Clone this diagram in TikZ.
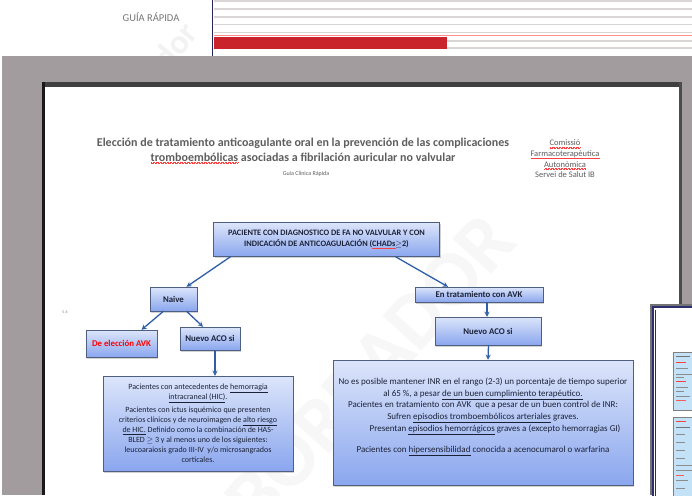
\documentclass[tikz,border=0pt]{standalone}
\usepackage{fontspec}
\setmainfont{Carlito}
\usepackage{tikz}
\usetikzlibrary{shadows}

\definecolor{fondo}{HTML}{A39C9F}
\definecolor{titulo}{HTML}{5E5E5E}
\definecolor{tinta}{HTML}{1B2238}
\definecolor{borde}{HTML}{4F5F80}
\definecolor{cajaarriba}{HTML}{DCE5FA}
\definecolor{cajaabajo}{HTML}{8AA6EE}
\definecolor{azul}{HTML}{2F5EA8}
\definecolor{rojo}{HTML}{C9232C}
\definecolor{raya}{HTML}{DAD5D5}
\definecolor{marinero}{HTML}{2E2E70}
\definecolor{celeste}{HTML}{C3E2F7}

% subrayado ondulado rojo del corrector
\newsavebox{\cajapalabra}
\newcommand{\corrige}[1]{\sbox{\cajapalabra}{#1}%
    \rlap{\raisebox{-2.2pt}{\textcolor{red!75}{\hbox to \wd\cajapalabra{\xleaders\hbox{\rule{0.7pt}{0.45pt}\raisebox{0.5pt}{\rule{0.7pt}{0.45pt}}}\hfill}}}}%
    \usebox{\cajapalabra}}
\newcommand{\subraya}[1]{\underline{#1}}

\begin{document}
\begin{tikzpicture}[x=1pt, y=-1pt, >=stealth,
    caja/.style={draw=borde, line width=0.4pt, top color=cajaarriba, bottom color=cajaabajo,
      drop shadow={shadow xshift=1.2pt, shadow yshift=-1.5pt, opacity=0.35},
      text=tinta, align=center, inner sep=0.5pt},
    etiqueta/.style={font=\bfseries\fontsize{8.8}{10}\selectfont},
    flecha/.style={->, line width=1.3pt, draw=azul}]
    \useasboundingbox (0,0) rectangle (692,495);
    \clip (0,0) rectangle (692,495);

    % Cabecera
    \fill[white] (0,0) rectangle (692,56);
    \foreach \y in {1,9,17,24.5,32.5,41,48}
        \draw[raya, line width=1.7pt] (214,\y) -- (692,\y);
    \draw[red!45, line width=1pt] (214,36) -- (692,36);
    \fill[rojo] (214,37) rectangle (447,49);
    \begin{scope}
        \clip (0,0) rectangle (211,56);
        \node[rotate=50, text=black!5, font=\bfseries\fontsize{34}{34}\selectfont] (marcaarriba) at (150,75) {Borrador};
    \end{scope}
    \draw[marinero!80!black, line width=1.2pt] (212.5,0) -- (212.5,56);
    \node[text=titulo!85, font=\fontsize{10.5}{12}\selectfont] (guia) at (151,17) {GUÍA RÁPIDA};

    % Fondo gris y pagina
    \fill[fondo] (2,56) rectangle (692,495);
    \fill[white] (45,87) rectangle (679,495);
    \fill[black!75] (42,82) rectangle (682,87);
    \fill[black!90] (42,82) rectangle (45,495);
    \fill[black!70] (679,82) rectangle (682,495);

    % Marca de agua
    \node[rotate=48, text=black!3, font=\bfseries\fontsize{80}{80}\selectfont] (marca) at (370,370) {BORRADOR};

    % Titulo
    \node[text=titulo, font=\bfseries\fontsize{12}{15}\selectfont, align=center] (titulo) at (303,150.5)
        {Elección de tratamiento anticoagulante oral en la prevención de las complicaciones\\
         \corrige{tromboembólicas} asociadas a fibrilación auricular no valvular};
    \node[text=titulo, font=\fontsize{6}{7}\selectfont] (subtitulo) at (306,174) {Guía Clínica Rápida};
    \node[text=titulo, font=\fontsize{8.5}{10.7}\selectfont, align=center] (comissio) at (565,159)
        {\corrige{Comissió}\\ \corrige{Farmacoterapèutica}\\ \corrige{Autonòmica}\\ Servei de Salut IB};
    \node[text=black!50, font=\fontsize{4}{4}\selectfont] (nota) at (65,312) {5,6};

    % Cajas
    \node[caja, font=\bfseries\fontsize{8.3}{11}\selectfont, minimum width=226pt, minimum height=34pt] (paciente) at (326.5,239.5)
        {PACIENTE CON DIAGNOSTICO DE FA NO VALVULAR Y CON\\
         INDICACIÓN DE ANTICOAGULACIÓN (\corrige{CHADs}$\geq$2)};
    \node[caja, etiqueta, minimum width=47pt, minimum height=24pt] (naive) at (173.5,299) {Naive};
    \node[caja, etiqueta, text=red, minimum width=71pt, minimum height=27pt] (eleccion) at (121.5,343.5) {De elección AVK};
    \node[caja, etiqueta, minimum width=60pt, minimum height=23pt] (nuevoizq) at (210,338.5) {Nuevo ACO si};
    \node[caja, etiqueta, minimum width=128pt, minimum height=15pt] (tratavk) at (479,294.5) {En tratamiento con AVK};
    \node[caja, etiqueta, minimum width=106pt, minimum height=28pt] (nuevoder) at (488,331) {Nuevo ACO si};
    \node[caja, font=\fontsize{8}{10}\selectfont, minimum width=190pt, minimum height=95pt] (contraizq) at (198,423.5)
        {Pacientes con antecedentes de \subraya{hemorragia}\\
         \subraya{intracraneal (HIC)}.\\[3pt]
         Pacientes con ictus isquémico que presenten\\
         criterios clínicos y de neuroimagen de \subraya{alto riesgo}\\
         \subraya{de HIC.} Definido como la combinación de HAS-\\
         BLED $\geq$ 3 y al menos uno de los siguientes:\\
         leucoaraiosis grado III-IV\ \ y/o microsangrados\\
         corticales.};
    \node[caja, font=\fontsize{9}{11.8}\selectfont, minimum width=300pt, minimum height=125pt] (contrader) at (483,422.5)
        {No es posible mantener INR en el rango (2-3) un porcentaje de tiempo superior\\
         al 65 \%, a pesar \subraya{de un buen cumplimiento terapéutico.}\\
         Pacientes en tratamiento con AVK\ \ que a pesar de un buen control de INR:\\
         Sufren \subraya{episodios tromboembólicos arteriales} graves.\hspace*{34pt}\\
         \hspace*{24pt}Presentan \subraya{episodios hemorrágicos} graves a (excepto hemorragias GI)\\[9pt]
         Pacientes con \subraya{hipersensibilidad} conocida a acenocumarol o warfarina\\[3pt]
         \mbox{}};

    % Flechas
    \draw[flecha] ([xshift=-96pt]paciente.south) -- ([xshift=13pt]naive.north);
    \draw[flecha] ([xshift=69pt]paciente.south) -- ([xshift=-31pt]tratavk.north);
    \draw[flecha] ([xshift=-10pt]naive.south) -- ([xshift=20pt]eleccion.north);
    \draw[flecha] ([xshift=13pt]naive.south) -- ([xshift=-7pt]nuevoizq.north);
    \draw[flecha] ([xshift=5pt]nuevoizq.south) -- ([xshift=17pt]contraizq.north);
    \draw[flecha] ([xshift=8pt]tratavk.south) -- ([xshift=-1pt]nuevoder.north);
    \draw[flecha] ([xshift=0.5pt]nuevoder.south) -- ([xshift=5pt]contrader.north);

    % Segunda pagina
    \fill[black!55] (650,304) rectangle (692,495);
    \draw[marinero, line width=2pt, fill=white] (653,307) rectangle (700,500);
    \draw[black!80, line width=0.6pt] (655.5,309.5) -- (655.5,500);
    \draw[fill=celeste, draw=black!50] (673,352) rectangle (700,410);
    \draw[fill=celeste, draw=black!50] (673,417) rectangle (700,500);
    \foreach \y/\l/\c in {356/14/black!55, 362/10/red!75, 368/12/black!45, 374/16/black!45, 377/8/black!45, 381/10/red!75, 387/12/black!45, 391/8/black!45, 396/14/black!45, 400/10/red!65}
        \draw[\c, line width=0.6pt] (676,\y) -- ++(\l,0);
    \foreach \y/\l/\c in {421/10/red!75, 427/14/black!55, 434/9/black!45, 442/9/black!45, 450/9/black!45, 458/9/black!45, 465/16/black!45, 470/16/black!45, 475/8/red!65, 480/12/black!45, 488/9/black!45}
        \draw[\c, line width=0.6pt] (676,\y) -- ++(\l,0);
\end{tikzpicture}
\end{document}
